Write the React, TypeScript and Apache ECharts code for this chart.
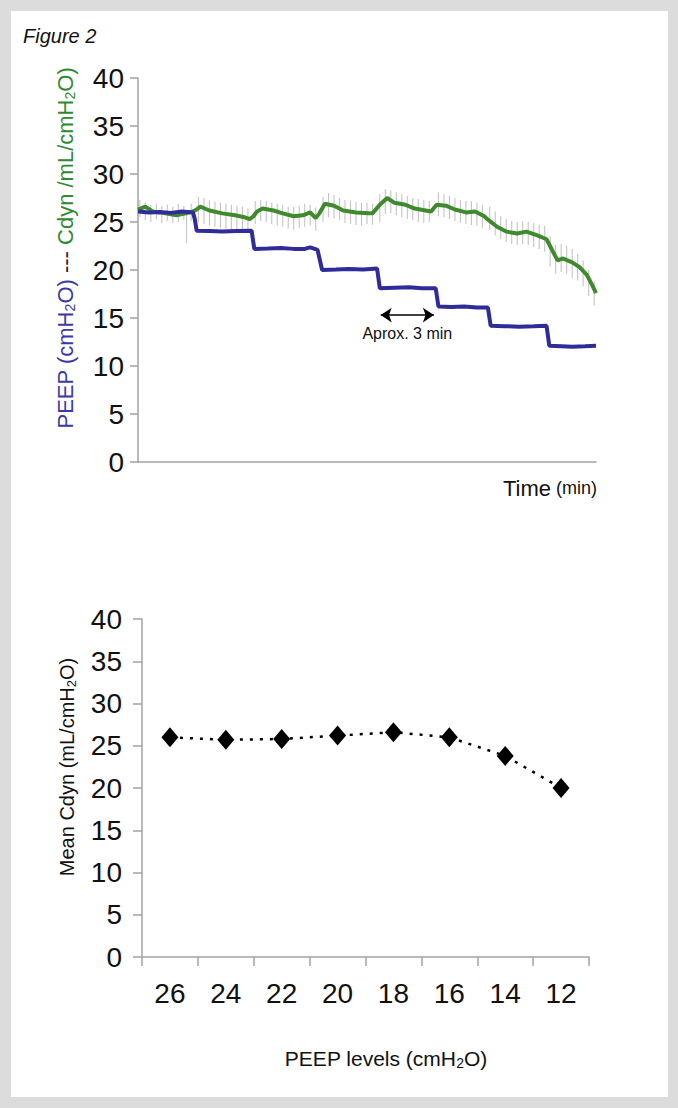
import React, { useEffect, useRef } from 'react';
import * as echarts from 'echarts';

// ---------- Top panel data (time in minutes) ----------
// PEEP trace [time, cmH2O]
const peepTrace: number[][] = [
  [0, 26.1], [0.6, 26.0], [1.2, 26.05], [1.8, 25.95], [2.4, 26.1], [3.0, 26.0], [3.1, 25.3], [3.2, 24.1],
  [3.9, 24.05], [4.6, 24.0], [5.4, 24.05], [6.2, 24.1], [6.35, 22.2], [7.1, 22.25], [7.8, 22.3],
  [8.5, 22.2], [9.1, 22.2], [9.4, 22.35], [9.8, 22.1], [10.05, 20.0], [10.8, 20.05], [11.5, 20.1],
  [12.3, 20.05], [13.05, 20.15], [13.2, 18.1], [14.0, 18.15], [14.8, 18.2], [15.5, 18.1],
  [16.25, 18.1], [16.4, 16.2], [17.1, 16.15], [17.8, 16.2], [18.5, 16.1], [19.1, 16.1], [19.25, 14.2],
  [20.0, 14.15], [20.8, 14.1], [21.6, 14.15], [22.3, 14.2], [22.45, 12.1], [23.1, 12.05], [23.7, 12.0],
  [24.4, 12.05], [25, 12.1],
];

// Smoothed Cdyn trace [time, mL/cmH2O]
const cdynTrace: number[][] = [
  [0.0, 26.3], [0.4, 26.6], [0.8, 26.1], [1.2, 26.0], [1.5, 25.9], [2.1, 25.7], [2.6, 25.9],
  [3.0, 26.1], [3.2, 26.3], [3.4, 26.6], [3.9, 26.2], [4.6, 25.9], [5.3, 25.7], [5.8, 25.5],
  [6.1, 25.3], [6.3, 25.6], [6.5, 26.1], [6.8, 26.4], [7.4, 26.2], [7.9, 25.9], [8.5, 25.6],
  [9.0, 25.7], [9.4, 26.0], [9.7, 25.4], [9.9, 25.9], [10.2, 26.9], [10.7, 26.7], [11.2, 26.2],
  [11.9, 26.0], [12.6, 25.9], [12.8, 25.9], [13.2, 26.8], [13.6, 27.5], [14.0, 27.0], [14.6, 26.8],
  [15.1, 26.4], [15.7, 26.2], [16.0, 26.1], [16.3, 26.8], [16.8, 26.7], [17.3, 26.3], [17.9, 26.0],
  [18.4, 26.1], [18.9, 25.6], [19.0, 25.4], [19.6, 24.5], [20.1, 24.0], [20.7, 23.8], [21.2, 24.0],
  [21.8, 23.6], [22.3, 23.2], [22.6, 22.1], [22.9, 21.0], [23.2, 21.2], [23.7, 20.8], [24.1, 20.3],
  [24.5, 19.5], [24.8, 18.4], [25.0, 17.6],
];

// Raw Cdyn oscillation [time, low, high]
const cdynRaw: number[][] = [
  [0.1, 25.5, 27.3], [0.4, 25.2, 27.0], [0.7, 25.0, 26.8], [1.0, 25.3, 26.9], [1.3, 24.9, 26.7],
  [1.6, 25.1, 26.8], [1.9, 24.9, 26.6], [2.2, 25.0, 26.9], [2.5, 25.2, 26.7], [2.65, 22.8, 26.2],
  [2.9, 25.1, 26.9],
  [3.3, 25.0, 27.6], [3.6, 24.8, 27.5], [3.9, 24.6, 27.3], [4.2, 24.5, 27.1], [4.5, 24.4, 27.0],
  [4.8, 24.3, 26.9], [5.1, 24.2, 26.8], [5.4, 24.1, 26.7], [5.7, 24.0, 26.6], [6.0, 24.2, 26.4],
  [6.4, 24.8, 27.2], [6.7, 25.1, 27.3], [7.0, 25.0, 27.2], [7.3, 24.8, 27.0], [7.6, 24.6, 26.9],
  [7.9, 24.5, 26.8], [8.2, 24.3, 26.6], [8.5, 24.2, 26.6], [8.8, 24.4, 26.7], [9.1, 24.5, 26.9],
  [9.4, 24.6, 26.8], [9.7, 24.1, 26.5],
  [10.1, 25.0, 27.6], [10.4, 25.5, 28.0], [10.7, 25.4, 27.8], [11.0, 25.2, 27.5], [11.3, 24.9, 27.3],
  [11.6, 24.8, 27.2], [11.9, 24.7, 27.1], [12.2, 24.6, 27.0], [12.5, 24.8, 27.0], [12.8, 24.7, 26.9],
  [13.2, 25.0, 27.9], [13.5, 25.8, 28.4], [13.8, 25.9, 28.3], [14.1, 25.7, 28.1], [14.4, 25.5, 27.9],
  [14.7, 25.3, 27.7], [15.0, 25.2, 27.5], [15.3, 25.0, 27.4], [15.6, 24.9, 27.3], [15.9, 25.0, 27.2],
  [16.4, 25.6, 28.1], [16.7, 25.5, 27.9], [17.0, 25.3, 27.7], [17.3, 25.1, 27.5], [17.6, 24.9, 27.3],
  [17.9, 24.8, 27.2], [18.2, 24.7, 27.2], [18.5, 24.6, 27.0], [18.8, 24.4, 26.8],
  [19.2, 24.2, 26.6], [19.5, 23.6, 26.1], [19.8, 23.2, 25.6], [20.1, 22.9, 25.3], [20.4, 22.7, 25.1],
  [20.7, 22.6, 25.0], [21.0, 22.7, 25.1], [21.3, 22.6, 25.0], [21.6, 22.4, 24.9], [21.9, 22.2, 24.7],
  [22.2, 21.9, 24.6],
  [22.5, 20.4, 23.5], [22.8, 19.6, 22.6], [23.1, 19.8, 22.7], [23.4, 19.6, 22.5], [23.7, 19.2, 22.2],
  [24.0, 18.9, 21.7], [24.3, 18.3, 21.0], [24.6, 17.3, 20.0], [24.9, 16.3, 18.8],
];

// Arrow annotation: start/end time and level
const arrowSpan: number[] = [13.25, 16.15];
const arrowLevel = 15.3;

// ---------- Bottom panel data ----------
const peepLevels: string[] = ['26', '24', '22', '20', '18', '16', '14', '12'];
const meanCdyn: number[] = [26.0, 25.7, 25.8, 26.2, 26.6, 26.0, 23.8, 20.0];

const yMin = 0;
const yMax = 40;
const yStep = 5;

const FONT = "'Liberation Sans', Arial, Helvetica, sans-serif";
const AXIS_GRAY = '#a3a3a3';
const BLUE = '#2f2c99';
const GREEN = '#3f8a2c';
const BLUE_TEXT = '#3b3aa5';
const GREEN_TEXT = '#2f8a2f';

function buildOption(): any {
  const axisLine = { show: true, lineStyle: { color: AXIS_GRAY, width: 1.5 } };
  return {
    animation: false,
    backgroundColor: '#dcdcdc',
    textStyle: { fontFamily: FONT },
    grid: [
      { left: 138, top: 78, width: 458, height: 384 },
      { left: 142, top: 619, width: 447, height: 338 },
    ],
    xAxis: [
      {
        gridIndex: 0, type: 'value', min: 0, max: 25,
        axisLine, axisTick: { show: false }, axisLabel: { show: false }, splitLine: { show: false },
      },
      {
        gridIndex: 1, type: 'category', data: peepLevels, boundaryGap: true,
        axisLine, axisTick: { show: true, length: 9, lineStyle: { color: AXIS_GRAY, width: 1.5 } },
        axisLabel: { fontSize: 28, color: '#111', margin: 22, fontFamily: FONT },
        splitLine: { show: false },
      },
    ],
    yAxis: [
      {
        gridIndex: 0, type: 'value', min: yMin, max: yMax, interval: yStep,
        axisLine, axisTick: { show: true, length: 8, lineStyle: { color: AXIS_GRAY, width: 1.5 } },
        axisLabel: { fontSize: 28, color: '#111', margin: 14, fontFamily: FONT },
        splitLine: { show: false },
      },
      {
        gridIndex: 1, type: 'value', min: yMin, max: yMax, interval: yStep,
        axisLine, axisTick: { show: true, length: 9, lineStyle: { color: AXIS_GRAY, width: 1.5 } },
        axisLabel: { fontSize: 28, color: '#111', margin: 20, fontFamily: FONT },
        splitLine: { show: false },
      },
    ],
    series: [
      {
        type: 'custom', xAxisIndex: 0, yAxisIndex: 0, data: cdynRaw, z: 1, silent: true,
        encode: { x: 0, y: [1, 2] },
        renderItem: (params: any, api: any) => {
          const lo = api.coord([api.value(0), api.value(1)]);
          const hi = api.coord([api.value(0), api.value(2)]);
          return {
            type: 'line',
            shape: { x1: lo[0], y1: lo[1], x2: hi[0], y2: hi[1] },
            style: { stroke: '#c4c4c4', lineWidth: 1.1 },
          };
        },
      },
      {
        type: 'line', xAxisIndex: 0, yAxisIndex: 0, data: cdynTrace,
        symbol: 'none', lineStyle: { color: GREEN, width: 4 }, z: 2, silent: true,
      },
      {
        type: 'line', xAxisIndex: 0, yAxisIndex: 0, data: peepTrace,
        symbol: 'none', lineStyle: { color: BLUE, width: 4 }, z: 3, silent: true,
        markLine: {
          silent: true,
          symbol: ['arrow', 'arrow'],
          symbolSize: [11, 11],
          lineStyle: { color: '#000', width: 1.5, type: 'solid' },
          label: {
            show: true, position: 'insideMiddleBottom', formatter: 'Aprox. 3 min',
            fontSize: 16, color: '#111', distance: 10, fontFamily: FONT,
          },
          data: [[{ coord: [arrowSpan[0], arrowLevel] }, { coord: [arrowSpan[1], arrowLevel] }]],
        },
      },
      {
        type: 'line', xAxisIndex: 1, yAxisIndex: 1, data: meanCdyn,
        symbol: 'diamond', symbolSize: [17, 20],
        itemStyle: { color: '#000' },
        lineStyle: { color: '#000', width: 2.5, type: [3, 7] },
        z: 3, silent: true,
      },
    ],
    graphic: [
      {
        type: 'rect', z: -10, silent: true,
        shape: { x: 11, y: 11, width: 657, height: 1086 },
        style: { fill: '#ffffff' },
      },
      {
        type: 'text', x: 23, y: 36, silent: true,
        style: {
          text: 'Figure 2', fill: '#111', fontSize: 20, fontStyle: 'italic', fontFamily: FONT,
          textAlign: 'left', textVerticalAlign: 'middle',
        },
      },
      {
        type: 'text', x: 65, y: 248, rotation: Math.PI / 2, silent: true,
        style: {
          text: '{b|PEEP (cmH}{bs|2}{b|O)}{k| --- }{g|Cdyn /mL/cmH}{gs|2}{g|O)}',
          textAlign: 'center', textVerticalAlign: 'middle', fontFamily: FONT,
          rich: {
            b: { fill: BLUE_TEXT, fontSize: 22, lineHeight: 24, fontFamily: FONT },
            bs: { fill: BLUE_TEXT, fontSize: 14, lineHeight: 12, verticalAlign: 'bottom', fontFamily: FONT },
            k: { fill: '#222', fontSize: 22, lineHeight: 24, fontFamily: FONT },
            g: { fill: GREEN_TEXT, fontSize: 22, lineHeight: 24, fontFamily: FONT },
            gs: { fill: GREEN_TEXT, fontSize: 14, lineHeight: 12, verticalAlign: 'bottom', fontFamily: FONT },
          },
        },
      },
      {
        type: 'text', x: 597, y: 488, silent: true,
        style: {
          text: '{a|Time}{b| (min)}',
          textAlign: 'right', textVerticalAlign: 'middle', fontFamily: FONT,
          rich: {
            a: { fill: '#111', fontSize: 22, lineHeight: 24, fontFamily: FONT },
            b: { fill: '#111', fontSize: 18, lineHeight: 24, fontFamily: FONT },
          },
        },
      },
      {
        type: 'text', x: 67, y: 767, rotation: Math.PI / 2, silent: true,
        style: {
          text: '{a|Mean Cdyn (mL/cmH}{s|2}{a|O)}',
          textAlign: 'center', textVerticalAlign: 'middle', fontFamily: FONT,
          rich: {
            a: { fill: '#111', fontSize: 20, lineHeight: 22, fontFamily: FONT },
            s: { fill: '#111', fontSize: 13, lineHeight: 11, verticalAlign: 'bottom', fontFamily: FONT },
          },
        },
      },
      {
        type: 'text', x: 386, y: 1058, silent: true,
        style: {
          text: '{a|PEEP levels (cmH}{s|2}{a|O)}',
          textAlign: 'center', textVerticalAlign: 'middle', fontFamily: FONT,
          rich: {
            a: { fill: '#111', fontSize: 21, lineHeight: 24, fontFamily: FONT },
            s: { fill: '#111', fontSize: 14, lineHeight: 12, verticalAlign: 'bottom', fontFamily: FONT },
          },
        },
      },
    ],
  };
}

export default function App() {
  const ref = useRef<HTMLDivElement>(null);
  useEffect(() => {
    if (!ref.current) return;
    const chart = echarts.init(ref.current, null, { renderer: 'svg' });
    chart.setOption(buildOption());
    return () => chart.dispose();
  }, []);
  return (
    <div
      ref={ref}
      style={{ position: 'fixed', left: 0, top: 0, width: 678, height: 1108 }}
    />
  );
}
